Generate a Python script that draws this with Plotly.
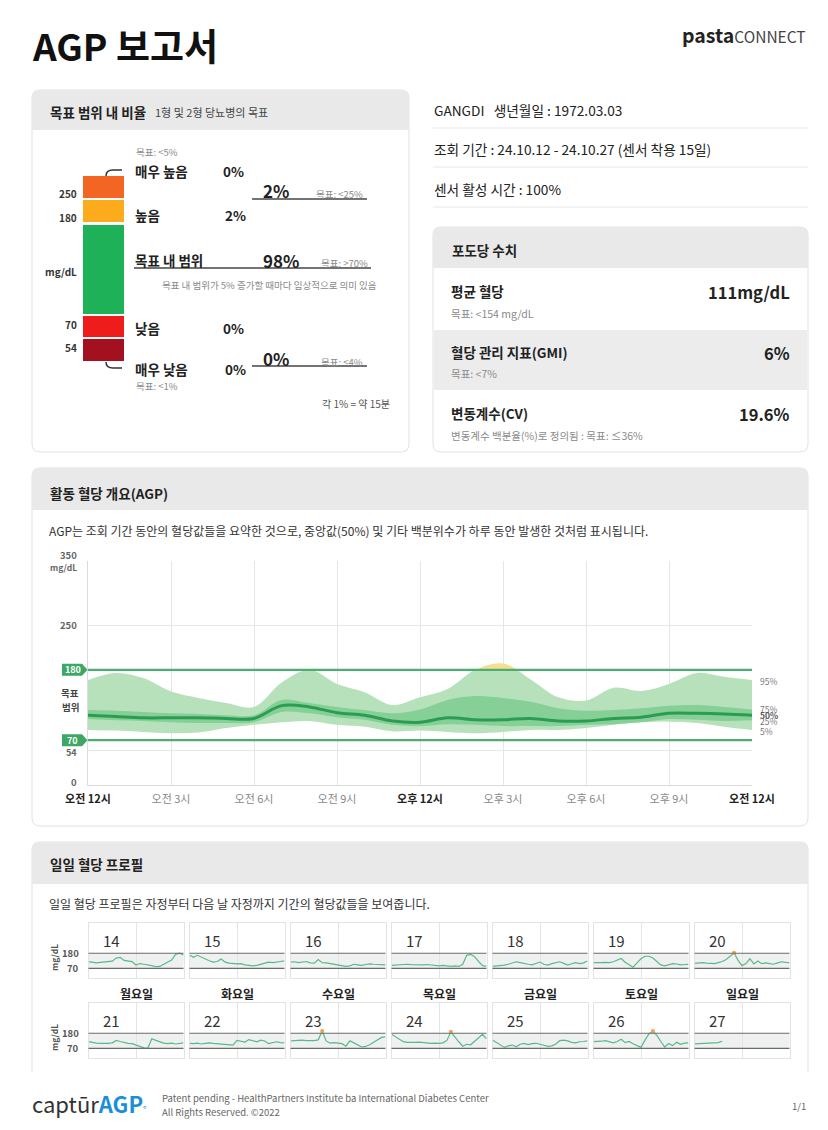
import plotly.graph_objects as go

PAGE_OFF = 8          # body margin of the page holding the figure
W, H = 828 - PAGE_OFF, 1130 - PAGE_OFF
FONT = "Noto Sans CJK KR, Noto Sans, sans-serif"

# ---------------- DATA ----------------
HOURS = list(range(25))
P5 = [86, 85, 83, 81, 82, 89, 94, 98, 100, 94, 91, 84, 85, 83, 81, 83, 86, 86, 89, 94, 98, 99, 97, 91, 86]
P25 = [103, 101, 100, 98, 97, 97, 98, 114, 112, 106, 102, 94, 92, 95, 94, 92, 92, 92, 94, 95, 98, 103, 102, 100, 101]
P50 = [109, 107, 105, 105, 105, 104, 104, 124, 122, 113, 109, 100, 98, 105, 102, 102, 104, 100, 100, 104, 106, 112, 112, 111, 109]
P75 = [117, 116, 114, 112, 111, 109, 109, 133, 128, 122, 117, 112, 118, 133, 139, 136, 130, 120, 116, 117, 120, 124, 125, 122, 118]
P95 = [164, 175, 167, 146, 136, 128, 122, 160, 180, 158, 145, 125, 137, 150, 180, 190, 165, 137, 132, 152, 147, 158, 175, 169, 164]
TARGET_LOW, TARGET_HIGH = 70, 180
AGP_YMAX = 350
AGP_YTICKS = [0, 54, 250, 350]
AGP_TICK_HOURS = [0, 3, 6, 9, 12, 15, 18, 21, 24]
AGP_TICK_LABELS = ["오전 12시", "오전 3시", "오전 6시", "오전 9시", "오후 12시",
                   "오후 3시", "오후 6시", "오후 9시", "오전 12시"]
PCT_LABELS = ["95%", "75%", "50%", "25%", "5%"]

DAYS = [14, 15, 16, 17, 18, 19, 20, 21, 22, 23, 24, 25, 26, 27]
WEEKDAYS = ["월요일", "화요일", "수요일", "목요일", "금요일", "토요일", "일요일"]
DAILY = {
    14: [119, 115, 110, 113, 117, 119, 122, 145, 150, 128, 122, 119, 94, 105, 100, 96, 90, 82, 84, 100, 118, 130, 172, 180, 168],
    15: [168, 150, 165, 150, 135, 125, 115, 120, 138, 115, 108, 105, 102, 105, 95, 92, 88, 92, 100, 110, 115, 112, 118, 120, 124],
    16: [115, 118, 112, 116, 120, 110, 108, 135, 112, 110, 104, 100, 92, 90, 84, 88, 100, 96, 92, 98, 103, 100, 97, 94, 96],
    17: [92, 95, 98, 102, 100, 97, 96, 92, 95, 98, 94, 90, 88, 92, 86, 85, 88, 84, 100, 165, 172, 155, 120, 90, 85],
    18: [84, 86, 90, 94, 100, 110, 118, 112, 104, 100, 96, 104, 116, 100, 94, 104, 110, 118, 106, 94, 104, 112, 105, 110, 124],
    19: [112, 110, 112, 114, 112, 118, 132, 142, 115, 95, 78, 110, 140, 158, 158, 145, 120, 95, 88, 94, 105, 102, 96, 98, 99],
    20: [107, 110, 112, 108, 104, 105, 112, 120, 135, 158, 183, 128, 90, 105, 140, 102, 124, 104, 110, 104, 100, 110, 118, 114, 112],
    21: [119, 112, 108, 106, 104, 106, 110, 128, 120, 112, 106, 104, 94, 84, 74, 72, 140, 128, 118, 108, 104, 108, 102, 106, 110],
    22: [107, 104, 108, 102, 106, 110, 106, 104, 100, 98, 96, 94, 128, 122, 116, 134, 124, 118, 130, 124, 104, 110, 118, 112, 110],
    23: [124, 126, 128, 130, 126, 124, 126, 132, 196, 124, 108, 112, 110, 104, 86, 125, 110, 92, 80, 84, 96, 115, 135, 150, 154],
    24: [173, 155, 131, 119, 114, 112, 114, 116, 112, 108, 106, 108, 106, 110, 128, 190, 150, 118, 86, 100, 96, 120, 150, 172, 140],
    25: [131, 112, 96, 77, 88, 94, 82, 100, 106, 98, 104, 107, 100, 92, 84, 88, 102, 126, 130, 124, 114, 110, 118, 120, 124],
    26: [119, 118, 122, 126, 116, 110, 120, 136, 112, 120, 104, 92, 77, 130, 175, 196, 165, 120, 80, 105, 90, 115, 100, 108, 110],
    27: [102, 103, 104, 106, 106, 108, 112, 122] + [None] * 17,
}
MINI_YMAX = 400

TIR_NAMES = ["매우 높음", "높음", "목표 내 범위", "낮음", "매우 낮음"]
TIR_PCT = ["0%", "2%", "98%", "0%", "0%"]
TIR_GOALS = ["목표: <5%", "목표: <25%", "목표: >70%", "목표: <4%", "목표: <1%"]
TIR_COMBINED = ["2%", "0%"]
TIR_BOUNDS = ["250", "180", "mg/dL", "70", "54"]
TIR_COLORS = ["#f26522", "#fcab1c", "#1fb157", "#ef1c1c", "#a3101f"]

GLU_NAMES = ["평균 혈당", "혈당 관리 지표(GMI)", "변동계수(CV)"]
GLU_GOALS = ["목표: <154 mg/dL", "목표: <7%", "변동계수 백분율(%)로 정의됨 : 목표: ≤36%"]
GLU_VALUES = ["111mg/dL", "6%", "19.6%"]

INFO_LINES = ["GANGDI   생년월일 : 1972.03.03",
              "조회 기간 : 24.10.12 - 24.10.27 (센서 착용 15일)",
              "센서 활성 시간 : 100%"]

# ---------------- HELPERS ----------------
def X(px):
    return (px - PAGE_OFF) / W


def Y(py):
    return 1 - (py - PAGE_OFF) / H


ann = []
shapes = []


def T(x, y, text, size=12, color="#222", xa="left", ya="middle", bold=False, **kw):
    if bold:
        text = f"<b>{text}</b>"
    ann.append(dict(x=X(x), y=Y(y), xref="paper", yref="paper", text=text,
                    showarrow=False, xanchor=xa, yanchor=ya,
                    font=dict(size=size, color=color, family=FONT), **kw))


def P(x, y):
    return f"{X(x):.5f},{Y(y):.5f}"


def rr_path(x0, y0, x1, y1, r, tl=True, tr=True, br=True, bl=True):
    d = f"M {P(x0 + (r if tl else 0), y0)} L {P(x1 - (r if tr else 0), y0)} "
    if tr:
        d += f"Q {P(x1, y0)} {P(x1, y0 + r)} "
    d += f"L {P(x1, y1 - (r if br else 0))} "
    if br:
        d += f"Q {P(x1, y1)} {P(x1 - r, y1)} "
    d += f"L {P(x0 + (r if bl else 0), y1)} "
    if bl:
        d += f"Q {P(x0, y1)} {P(x0, y1 - r)} "
    d += f"L {P(x0, y0 + (r if tl else 0))} "
    if tl:
        d += f"Q {P(x0, y0)} {P(x0 + r, y0)} "
    return d + "Z"


def box(x0, y0, x1, y1, fill="white", line="#e2e2e2", r=8, **kw):
    shapes.append(dict(type="path", xref="paper", yref="paper", path=rr_path(x0, y0, x1, y1, r, **kw),
                       fillcolor=fill, line=dict(color=line, width=1 if line else 0), layer="below"))


def hline(x0, x1, y, color="#444", width=1.5, layer="above"):
    shapes.append(dict(type="line", xref="paper", yref="paper", x0=X(x0), x1=X(x1), y0=Y(y), y1=Y(y),
                       line=dict(color=color, width=width), layer=layer))


def rect(x0, y0, x1, y1, color):
    shapes.append(dict(type="rect", xref="paper", yref="paper", x0=X(x0), x1=X(x1), y0=Y(y1), y1=Y(y0),
                       fillcolor=color, line=dict(width=0), layer="below"))


# ---------------- HEADER ----------------
rect(32, 0, 808, 3, "#111")
T(30, 45, "AGP 보고서", 37, "#111", bold=True)
T(808, 35, "<b>pasta</b><span style='font-size:15.5px;color:#444'>CONNECT</span>", 19.5, "#222", xa="right")

# ---------------- TIME IN RANGE BOX ----------------
box(32, 90, 409, 452)
box(32, 90, 409, 130, fill="#e9e9e9", line=None, br=False, bl=False)
T(48, 112, "목표 범위 내 비율", 13.5, "#222", bold=True)
T(153, 112, "1형 및 2형 당뇨병의 목표", 11, "#444")

seg_y = [(176, 198), (200, 222), (225, 314), (316, 337), (339, 361)]
for (a, b), c in zip(seg_y, TIR_COLORS):
    rect(83, a, 124, b, c)
for lab, yy in zip(TIR_BOUNDS, [193, 217, 271, 325, 348]):
    T(79, yy, lab, 10, "#333", xa="right", bold=True)

shapes.append(dict(type="path", xref="paper", yref="paper",
                   path=f"M {P(106, 176)} Q {P(106, 170)} {P(113, 170)} L {P(122, 170)}",
                   line=dict(color="#333", width=1.5)))
shapes.append(dict(type="path", xref="paper", yref="paper",
                   path=f"M {P(106, 362)} Q {P(106, 368)} {P(113, 368)} L {P(122, 368)}",
                   line=dict(color="#333", width=1.5)))

GRAY = "#8a8a8a"
T(134, 152, TIR_GOALS[0], 9.5, GRAY)
T(133, 171, TIR_NAMES[0], 13.5, "#222", bold=True)
T(221, 171, TIR_PCT[0], 13.5, "#222", bold=True)
T(261, 190, TIR_COMBINED[0], 17, "#222", bold=True)
T(314, 194, TIR_GOALS[1], 9.5, GRAY)
hline(252, 367, 199)
T(133, 215, TIR_NAMES[1], 13.5, "#222", bold=True)
T(223, 215, TIR_PCT[1], 13.5, "#222", bold=True)
T(133, 260, TIR_NAMES[2], 13.5, "#222", bold=True)
T(261, 260, TIR_PCT[2], 17, "#222", bold=True)
T(319, 263, TIR_GOALS[2], 9.5, GRAY)
hline(134, 371, 268)
T(160, 285, "목표 내 범위가 5% 증가할 때마다 임상적으로 의미 있음", 9.5, GRAY)
T(133, 328, TIR_NAMES[3], 13.5, "#222", bold=True)
T(221, 328, TIR_PCT[3], 13.5, "#222", bold=True)
T(261, 358, TIR_COMBINED[1], 17, "#222", bold=True)
T(319, 362, TIR_GOALS[3], 9.5, GRAY)
hline(252, 367, 366)
T(133, 369, TIR_NAMES[4], 13.5, "#222", bold=True)
T(223, 369, TIR_PCT[4], 13.5, "#222", bold=True)
T(134, 386, TIR_GOALS[4], 9.5, GRAY)
T(392, 403, "각 1% = 약 15분", 10, "#555", xa="right")

# ---------------- PATIENT INFO ----------------
for txt, yy, ly in zip(INFO_LINES, [110, 149, 189], [128, 167, 207]):
    T(432, yy, txt, 13.7, "#222")
    hline(433, 808, ly, color="#e8e8e8", width=1, layer="below")

# ---------------- GLUCOSE BOX ----------------
box(433, 227, 808, 452)
box(433, 227, 808, 268, fill="#e9e9e9", line=None, br=False, bl=False)
rect(434, 330, 807, 390, "#ececec")
T(450, 250, "포도당 수치", 13.5, "#222", bold=True)
for i, yy in enumerate([291, 352, 413]):
    T(449, yy, GLU_NAMES[i], 13.5, "#222", bold=True)
    T(449, yy + 22, GLU_GOALS[i], 10.5, GRAY)
    T(792, yy + 1, GLU_VALUES[i], 16.5, "#222", xa="right", bold=True)

# ---------------- AGP BOX ----------------
box(32, 468, 808, 826)
box(32, 468, 808, 510, fill="#e9e9e9", line=None, br=False, bl=False)
T(48, 493, "활동 혈당 개요(AGP)", 13.5, "#222", bold=True)
T(47, 530, "AGP는 조회 기간 동안의 혈당값들을 요약한 것으로, 중앙값(50%) 및 기타 백분위수가 하루 동안 발생한 것처럼 표시됩니다.",
  12, "#333")

AX_L, AX_R, AX_T, AX_B = 88, 752, 561, 785


def ypix(v):
    return AX_B - v * (AX_B - AX_T) / AGP_YMAX


y180 = ypix(TARGET_HIGH)

for v, lab in zip(AGP_YTICKS, ["0", "54", "250", "350"]):
    dy = -6 if v == 350 else (-3 if v == 0 else (2 if v == 54 else 0))
    T(79, ypix(v) + dy, lab, 9 if v == 54 else 9.5, "#666", xa="right", bold=True)
T(79, ypix(350) + 6, "mg/dL", 8.5, "#666", xa="right", bold=True)
T(70, 693, "목표", 9.5, "#444", xa="center", bold=True)
T(70, 707, "범위", 9.5, "#444", xa="center", bold=True)
for v in (TARGET_HIGH, TARGET_LOW):
    yy = ypix(v)
    shapes.append(dict(type="path", xref="paper", yref="paper",
                       path=f"M {P(62, yy - 6)} L {P(82, yy - 6)} L {P(87.5, yy)} L {P(82, yy + 6)} L {P(62, yy + 6)} Z",
                       fillcolor="#3da766", line=dict(width=0), layer="above"))
    T(72.5, yy, str(v), 9, "white", xa="center", bold=True)

pct_vals = [P95[-1], P75[-1], P50[-1], P25[-1], P5[-1]]
pct_dy = [1, 0, 0, 1, 1]
for lab, v, dy in zip(PCT_LABELS, pct_vals, pct_dy):
    T(758, ypix(v) + dy, lab, 8.5, "#555" if lab == "50%" else "#777", bold=(lab == "50%"))

for v in (TARGET_HIGH, TARGET_LOW):
    shapes.append(dict(type="line", xref="x", yref="y", x0=0, x1=24, y0=v, y1=v,
                       line=dict(color="#4cae70", width=2.2), layer="above"))

# ---------------- DAILY BOX ----------------
box(32, 842, 808, 1085, r=8)
box(32, 842, 808, 884, fill="#e9e9e9", line=None, br=False, bl=False)
T(48, 864, "일일 혈당 프로필", 13.5, "#222", bold=True)
T(47, 903, "일일 혈당 프로필은 자정부터 다음 날 자정까지 기간의 혈당값들을 보여줍니다.", 12, "#333")

# ---------------- FOOTER ----------------
rect(0, 1072, 828, 1130, "white")
T(30, 1103, "captūr<b><span style='color:#1a8fd8'>AGP</span></b><span style='font-size:9px;color:#1a8fd8'>°</span>",
  22, "#333")
T(160, 1098, "Patent pending - HealthPartners Institute ba International Diabetes Center", 9.5, "#666")
T(160, 1112, "All Rights Reserved. ©2022", 9.5, "#666")
T(808, 1106, "1/1", 9.5, "#666", xa="right")

# ---------------- FIGURE ----------------
fig = go.Figure()

LIGHT, MID, DARK, YEL = "#b7e1bb", "#86cf97", "#2a9d52", "#f8dc92"


def add_band(lo, hi, color, yaxis):
    fig.add_trace(go.Scatter(x=HOURS, y=lo, mode="lines", line=dict(width=0, shape="spline", smoothing=1),
                             yaxis=yaxis, xaxis="x", hoverinfo="skip", showlegend=False))
    fig.add_trace(go.Scatter(x=HOURS, y=hi, mode="lines", line=dict(width=0, shape="spline", smoothing=1),
                             fill="tonexty", fillcolor=color, yaxis=yaxis, xaxis="x",
                             hoverinfo="skip", showlegend=False))


fig.add_trace(go.Scatter(x=[0], y=[0], mode="markers", marker=dict(opacity=0), xaxis="x", yaxis="y",
                         hoverinfo="skip", showlegend=False))
add_band(P5, P95, LIGHT, "y2")
add_band(P25, P75, MID, "y2")
fig.add_trace(go.Scatter(x=HOURS, y=P50, mode="lines", line=dict(color=DARK, width=3, shape="spline", smoothing=1),
                         xaxis="x", yaxis="y2", hoverinfo="skip", showlegend=False))
add_band(P5, P95, YEL, "y3")

tick_text = [f"<b>{t}</b>" if h in (0, 12, 24) else f"<span style='color:#888'>{t}</span>"
             for h, t in zip(AGP_TICK_HOURS, AGP_TICK_LABELS)]

layout = dict(
    width=W, height=H, autosize=False,
    margin=dict(l=0, r=0, t=0, b=0, pad=0, autoexpand=False),
    paper_bgcolor="white", plot_bgcolor="rgba(0,0,0,0)", showlegend=False,
    font=dict(family=FONT),
    xaxis=dict(domain=[X(AX_L), X(AX_R)], range=[0, 24], anchor="y", tickvals=AGP_TICK_HOURS,
               ticktext=tick_text, showgrid=True, gridcolor="#e6e6e6", gridwidth=1, zeroline=False,
               showline=True, linecolor="#dcdcdc", ticks="", tickfont=dict(size=11, color="#222", family=FONT),
               ticklabelstandoff=4, automargin=False, fixedrange=True),
    yaxis=dict(domain=[Y(AX_B), Y(AX_T)], range=[0, AGP_YMAX], anchor="x", tickvals=AGP_YTICKS,
               showgrid=True, gridcolor="#e8e8e8", showticklabels=False, zeroline=False,
               showline=True, linecolor="#dcdcdc", ticks="", automargin=False, fixedrange=True),
    yaxis2=dict(domain=[Y(AX_B), Y(y180)], range=[0, TARGET_HIGH], anchor="x", visible=False,
                automargin=False, fixedrange=True),
    yaxis3=dict(domain=[Y(y180), Y(AX_T)], range=[TARGET_HIGH, AGP_YMAX], anchor="x", visible=False,
                automargin=False, fixedrange=True),
)

for i, d in enumerate(DAYS):
    n = i + 4
    row, col = divmod(i, 7)
    left = 88.5 + col * 101
    top = 923 + row * 80
    bottom = top + 55
    layout[f"xaxis{n}"] = dict(domain=[X(left), X(left + 95)], range=[0, 24], anchor=f"y{n}",
                               tickvals=[12], showgrid=True, gridcolor="#e4e4e4", showticklabels=False,
                               zeroline=False, showline=True, linecolor="#e3e3e3", mirror=True, ticks="",
                               automargin=False, fixedrange=True)
    layout[f"yaxis{n}"] = dict(domain=[Y(bottom), Y(top)], range=[0, MINI_YMAX], anchor=f"x{n}",
                               showgrid=False, showticklabels=False, zeroline=False, showline=True,
                               linecolor="#e3e3e3", mirror=True, ticks="", automargin=False, fixedrange=True)
    shapes.append(dict(type="rect", xref=f"x{n} domain", yref=f"y{n}", x0=0, x1=1,
                       y0=TARGET_LOW, y1=TARGET_HIGH, fillcolor="#eef1f0", line=dict(width=0), layer="below"))
    for v in (TARGET_LOW, TARGET_HIGH):
        shapes.append(dict(type="line", xref=f"x{n} domain", yref=f"y{n}", x0=0, x1=1, y0=v, y1=v,
                           line=dict(color="#6b6b6b", width=1.2), layer="above"))
    vals = DAILY[d]
    fig.add_trace(go.Scatter(x=HOURS, y=vals, mode="lines", line=dict(color="#5bb88c", width=1.2),
                             xaxis=f"x{n}", yaxis=f"y{n}", hoverinfo="skip", showlegend=False,
                             connectgaps=False))
    hx = [h for h, v in zip(HOURS, vals) if v is not None and v > TARGET_HIGH]
    hy = [v for v in vals if v is not None and v > TARGET_HIGH]
    if hx:
        fig.add_trace(go.Scatter(x=hx, y=hy, mode="markers", marker=dict(color="#f0a050", size=4),
                                 xaxis=f"x{n}", yaxis=f"y{n}", hoverinfo="skip", showlegend=False))
    T(left + 12, top + 17, str(d), 15, "#333")
    if row == 0:
        T(left + 47.5, 993, WEEKDAYS[col], 12, "#222", xa="center", bold=True)

for r in range(2):
    top = 923 + r * 80
    bottom = top + 55
    s = 55 / MINI_YMAX
    T(81, bottom - TARGET_HIGH * s, "180", 9.5, "#555", xa="right", bold=True)
    T(81, bottom - TARGET_LOW * s, "70", 9.5, "#555", xa="right", bold=True)
    T(54, bottom - 20, "mg/dL", 8.5, "#555", xa="center", bold=True, textangle=-90)

layout["annotations"] = ann
layout["shapes"] = shapes
fig.update_layout(**layout)
fig.write_html("out.html")
